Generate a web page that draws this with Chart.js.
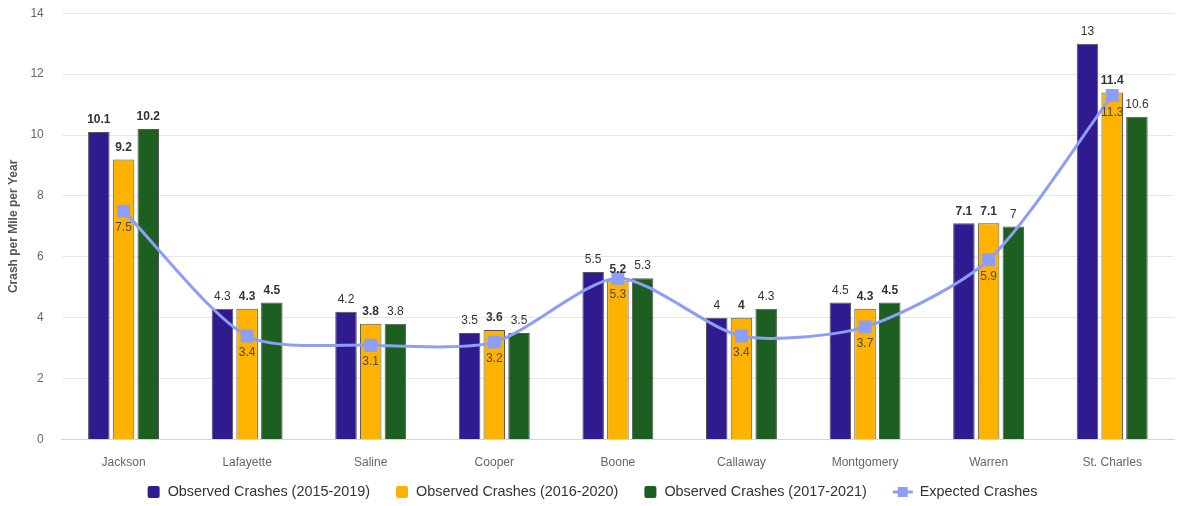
<!DOCTYPE html>
<html>
<head>
<meta charset="utf-8">
<script src="https://cdn.jsdelivr.net/npm/chart.js@4.4.1/dist/chart.umd.min.js"></script>
<style>
html,body{margin:0;padding:0;background:#fff;}
#wrap{width:1183px;height:506px;position:relative;}
</style>
</head>
<body>
<div id="wrap"><canvas id="c"></canvas></div>
<script>
const categories = ["Jackson","Lafayette","Saline","Cooper","Boone","Callaway","Montgomery","Warren","St. Charles"];
const observed1519 = [10.1, 4.3, 4.2, 3.5, 5.5, 4, 4.5, 7.1, 13];
const observed1620 = [9.2, 4.3, 3.8, 3.6, 5.2, 4, 4.3, 7.1, 11.4];
const observed1721 = [10.2, 4.5, 3.8, 3.5, 5.3, 4.3, 4.5, 7, 10.6];
const expected = [7.5, 3.4, 3.1, 3.2, 5.3, 3.4, 3.7, 5.9, 11.3];
const seriesNames = ["Observed Crashes (2015-2019)","Observed Crashes (2016-2020)","Observed Crashes (2017-2021)","Expected Crashes"];
const yTicks = [0,2,4,6,8,10,12,14];

const FONT = "'Liberation Sans', Arial, sans-serif";
const colors = ["#2f1a8f", "#ffb300", "#1d5e21", "#8c9ef7"];
// label weights per series (bold flags) – styling only
const boldFlags = [
  [1,0,0,0,0,0,0,1,0],
  [1,1,1,1,1,1,1,1,1],
  [1,1,0,0,0,0,1,0,0],
  [0,0,0,0,0,0,0,0,0]
];

const labelPlugin = {
  id: 'valueLabels',
  afterDatasetsDraw(chart) {
    const ctx = chart.ctx;
    ctx.save();
    chart.data.datasets.forEach((ds, di) => {
      const meta = chart.getDatasetMeta(di);
      meta.data.forEach((el, i) => {
        const v = ds.data[i];
        const w = boldFlags[di][i] ? 'bold ' : '';
        ctx.font = w + '12px ' + FONT;
        ctx.textAlign = 'center';
        if (ds.type === 'line') {
          ctx.fillStyle = '#4a4a4a';
          ctx.textBaseline = 'top';
          ctx.fillText(String(v), el.x, el.y + 11);
        } else {
          ctx.fillStyle = '#333';
          ctx.textBaseline = 'bottom';
          ctx.fillText(String(v), el.x, el.y - 6);
        }
      });
    });
    ctx.restore();
  }
};

// custom legend drawn at the bottom
const legendPlugin = {
  id: 'customLegend',
  afterDraw(chart) {
    const ctx = chart.ctx;
    ctx.save();
    ctx.font = '14.4px ' + FONT;
    const box = 12, gapText = 8, gapItem = 26, lineW = 20, lineGap = 7;
    const widths = seriesNames.map((n, i) => (i < 3 ? box + gapText : lineW + lineGap) + ctx.measureText(n).width);
    const total = widths.reduce((a, b) => a + b, 0) + gapItem * (seriesNames.length - 1);
    let x = (chart.width - total) / 2 + 1;
    const cy = 492;
    seriesNames.forEach((n, i) => {
      if (i < 3) {
        ctx.fillStyle = colors[i];
        ctx.beginPath();
        if (ctx.roundRect) ctx.roundRect(x, cy - box / 2, box, box, 2); else ctx.rect(x, cy - box / 2, box, box);
        ctx.fill();
        x += box + gapText;
      } else {
        ctx.strokeStyle = colors[3]; ctx.lineWidth = 3;
        ctx.beginPath(); ctx.moveTo(x, cy); ctx.lineTo(x + lineW, cy); ctx.stroke();
        ctx.fillStyle = colors[3];
        ctx.fillRect(x + lineW / 2 - 5, cy - 5, 10, 10);
        x += lineW + lineGap;
      }
      ctx.fillStyle = '#333';
      ctx.textAlign = 'left';
      ctx.textBaseline = 'middle';
      ctx.fillText(n, x, cy);
      x += ctx.measureText(n).width + gapItem;
    });
    ctx.restore();
  }
};

const barCommon = {
  type: 'bar',
  borderColor: '#555',
  borderWidth: 1,
  categoryPercentage: 0.6,
  barPercentage: 0.87,
  order: 1
};

new Chart(document.getElementById('c'), {
  data: {
    labels: categories,
    datasets: [
      Object.assign({label: seriesNames[0], data: observed1519, backgroundColor: colors[0]}, barCommon),
      Object.assign({label: seriesNames[1], data: observed1620, backgroundColor: colors[1]}, barCommon),
      Object.assign({label: seriesNames[2], data: observed1721, backgroundColor: colors[2]}, barCommon),
      {
        type: 'line', label: seriesNames[3], data: expected,
        borderColor: colors[3], backgroundColor: colors[3], borderWidth: 3,
        pointStyle: 'rect', pointRadius: 7, pointHoverRadius: 7,
        tension: 0.25, order: 0
      }
    ]
  },
  options: {
    responsive: true,
    maintainAspectRatio: false,
    animation: false,
    layout: { autoPadding: false, padding: { top: 0, right: 9, left: 3, bottom: 28 } },
    plugins: {
      tooltip: { enabled: false },
      legend: { display: false }
    },
    scales: {
      x: {
        grid: { display: false },
        border: { color: '#ccd6eb', width: 1 },
        ticks: { font: { family: FONT, size: 12 }, color: '#666', padding: 8 }
      },
      y: {
        min: 0, max: 14,
        afterBuildTicks(axis) { axis.ticks = yTicks.map(v => ({ value: v })); },
        grid: { color: '#e6e6e6', drawTicks: true, tickLength: 12, tickColor: 'rgba(0,0,0,0)' },
        border: { display: false },
        ticks: { font: { family: FONT, size: 12 }, color: '#666', padding: 6 },
        title: { display: true, text: 'Crash per Mile per Year', font: { family: FONT, size: 12, weight: 'bold' }, color: '#555', padding: { top: 3, bottom: 4 } }
      }
    }
  },
  plugins: [labelPlugin, legendPlugin]
});
</script>
</body>
</html>
